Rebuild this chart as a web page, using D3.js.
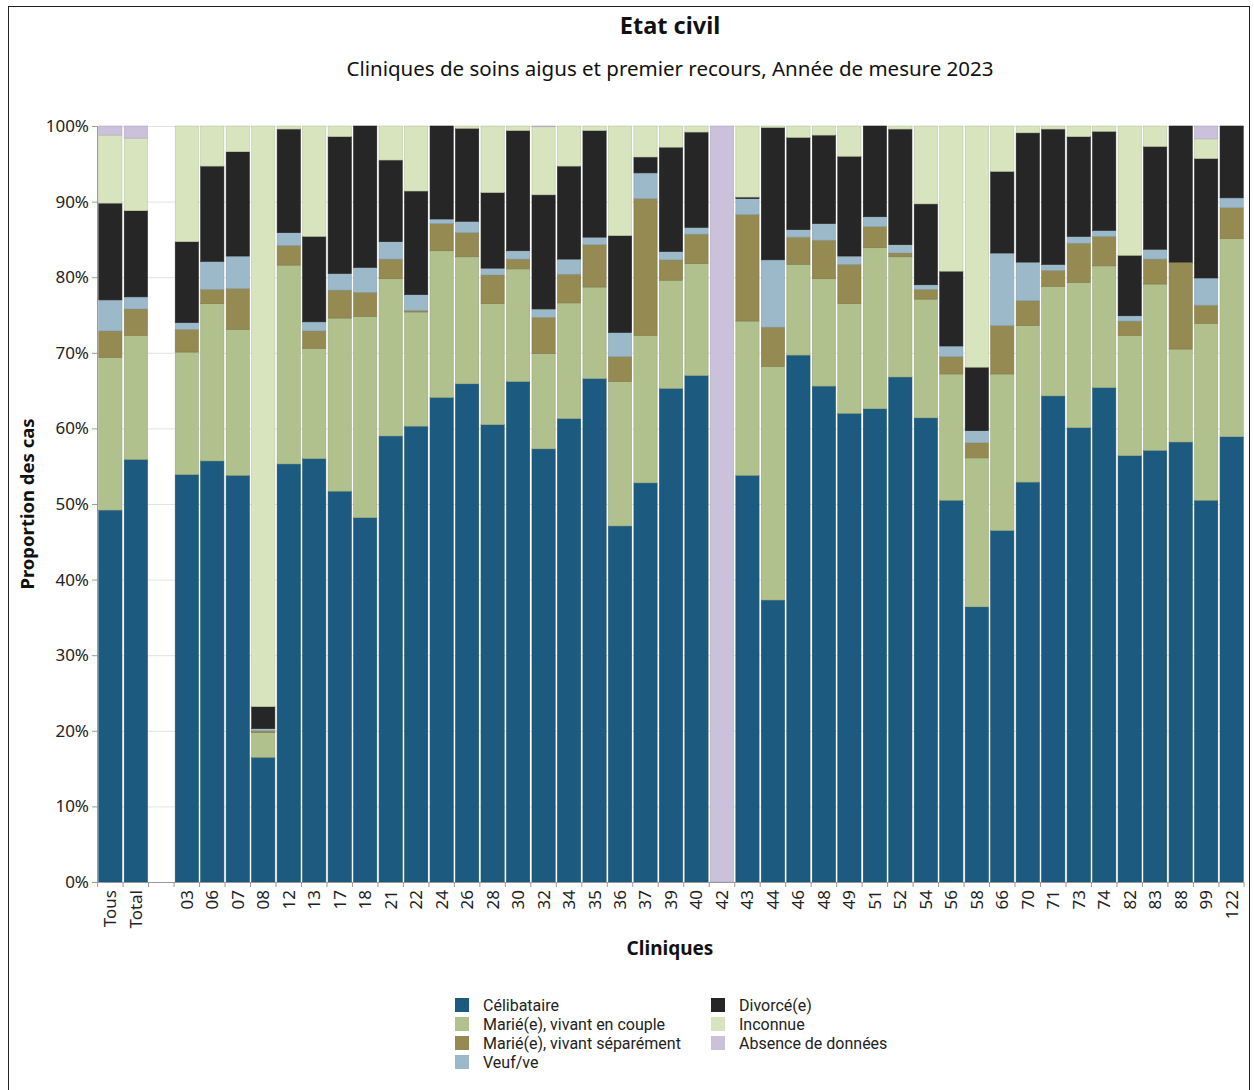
<!DOCTYPE html>
<html><head><meta charset="utf-8">
<script src="https://cdn.jsdelivr.net/npm/d3@7"></script>
<style>
body{margin:0;background:#fff;}
svg{font-family:"Noto Sans","Open Sans",sans-serif;}
</style></head>
<body>
<svg id="chart" width="1254" height="1090"></svg>
<script>
const categories = ["Tous","Total","","03","06","07","08","12","13","17","18","21","22","24","26","28","30","32","34","35","36","37","39","40","42","43","44","46","48","49","51","52","54","56","58","66","70","71","73","74","82","83","88","99","122"];
const seriesNames = ["Célibataire","Marié(e), vivant en couple","Marié(e), vivant séparément","Veuf/ve","Divorcé(e)","Inconnue","Absence de données"];
const celibataire = [49.2,55.9,0,53.9,55.7,53.8,16.5,55.3,56.0,51.7,48.2,59.0,60.3,64.1,65.9,60.5,66.2,57.3,61.3,66.6,47.1,52.8,65.3,67.0,0,53.8,37.3,69.7,65.6,62.0,62.6,66.8,61.4,50.5,36.4,46.5,52.9,64.3,60.1,65.4,56.4,57.1,58.2,50.5,58.9];
const marieCouple = [20.2,16.4,0,16.2,20.8,19.3,3.3,26.3,14.6,22.9,26.6,20.8,15.1,19.4,16.8,16.0,14.9,12.6,15.3,12.1,19.1,19.5,14.3,14.8,0,20.4,30.9,12.0,14.2,14.5,21.3,15.9,15.7,16.7,19.7,20.7,20.7,14.5,19.2,16.1,15.9,22.0,12.3,23.4,26.2];
const marieSepare = [3.5,3.5,0,3.0,1.9,5.4,0.2,2.6,2.3,3.7,3.2,2.6,0.2,3.6,3.2,3.8,1.3,4.8,3.8,5.6,3.3,18.1,2.7,3.9,0,14.1,5.2,3.6,5.1,5.2,2.8,0.5,1.3,2.3,2.0,6.4,3.3,2.1,5.2,3.9,1.9,3.3,11.5,2.4,4.1];
const veuf = [4.1,1.6,0,0.9,3.7,4.3,0.3,1.7,1.2,2.2,3.3,2.3,2.1,0.6,1.5,0.9,1.1,1.1,2.0,1.0,3.2,3.4,1.1,0.9,0,2.1,8.9,1.0,2.2,1.1,1.3,1.1,0.6,1.4,1.6,9.6,5.1,0.8,0.9,0.8,0.7,1.3,0,3.6,1.3];
const divorce = [12.8,11.4,0,10.7,12.6,13.8,2.9,13.7,11.3,18.1,18.7,10.8,13.7,12.3,12.3,10.0,15.9,15.1,12.3,14.1,12.8,2.1,13.8,12.6,0,0.2,17.5,12.2,11.7,13.2,12.0,15.3,10.7,9.9,8.4,10.8,17.1,17.9,13.2,13.1,8.0,13.6,18.0,15.8,9.5];
const inconnue = [9.0,9.6,0,15.3,5.3,3.4,76.8,0.4,14.6,1.4,0,4.5,8.6,0,0.3,8.8,0.6,9.0,5.3,0.6,14.5,4.1,2.8,0.8,0,9.4,0.2,1.5,1.2,4.0,0,0.4,10.3,19.2,31.9,6.0,0.9,0.4,1.4,0.7,17.1,2.7,0,2.6,0];
const absence = [1.2,1.6,0,0,0,0,0,0,0,0,0,0,0,0,0,0,0,0.1,0,0,0,0,0,0,100,0,0,0,0,0,0,0,0,0,0,0,0,0,0,0,0,0,0,1.7,0];
const yTicks = [0,10,20,30,40,50,60,70,80,90,100];
const colors = ["#1c5b7f","#b0c18e","#948a52","#9bb9c9","#262626","#d8e4bd","#cbc1db"];

(function(){
const seriesArrays = [celibataire,marieCouple,marieSepare,veuf,divorce,inconnue,absence];
const keys = seriesNames;
const rows = categories.map((c,i)=>{
  const r = {key: c===""? "__blank": c, label:c};
  keys.forEach((k,j)=> r[k] = seriesArrays[j][i]);
  return r;
});

const svg = d3.select("#chart");
svg.append("rect").attr("x",8.5).attr("y",6.5).attr("width",1241).attr("height",1100)
  .attr("fill","none").attr("stroke","#222").attr("stroke-width",1);

const pl=97, pr=1244, pt=126, pb=882;
const x = d3.scaleBand().domain(rows.map(d=>d.key)).range([pl+1,pr]).paddingInner(0.09).paddingOuter(0.03);
const y = d3.scaleLinear().domain([0,100]).range([pb,pt]);

svg.append("g").selectAll("line").data(yTicks).join("line")
  .attr("x1",pl).attr("x2",pr).attr("y1",d=>y(d)+0.5).attr("y2",d=>y(d)+0.5)
  .attr("stroke","#e3e3e3").attr("stroke-width",1);

const stack = d3.stack().keys(keys)(rows);
const g = svg.append("g");
stack.forEach((s,si)=>{
  g.append("g").selectAll("rect").data(s.filter(d=>d[1]-d[0]>0)).join("rect")
    .attr("x",d=>x(d.data.key))
    .attr("width",x.bandwidth())
    .attr("y",d=>y(d[1]))
    .attr("height",d=>y(d[0])-y(d[1]))
    .attr("fill",colors[si])
    .attr("stroke",d3.color(colors[si]).darker(0.4))
    .attr("stroke-width",0.6);
});

const yAxis = d3.axisLeft(y).tickValues(yTicks).tickFormat(d=>d+"%").tickSize(5).tickPadding(3);
const ya = svg.append("g").attr("transform",`translate(${pl},0)`).call(yAxis);
ya.select(".domain").attr("stroke","#999");
ya.selectAll(".tick line").attr("stroke","#999");
ya.selectAll("text").attr("font-size",17).attr("fill","#222").attr("font-family","'Noto Sans',sans-serif");

const xAxis = d3.axisBottom(x).tickFormat(k=> k==="__blank"?"":k).tickSize(0).tickPadding(0);
const xa = svg.append("g").attr("transform",`translate(0,${pb})`).call(xAxis);
xa.select(".domain").attr("stroke","#999").attr("d",`M${pl},0.5H${pr}`);
xa.selectAll(".tick line").remove();
xa.selectAll(".tick text")
  .attr("transform","rotate(-90)")
  .attr("x",-8).attr("y",0).attr("dy","0.35em")
  .attr("text-anchor","end")
  .attr("font-size",17).attr("fill","#222").attr("font-family","'Noto Sans',sans-serif");
const tickPos = rows.map(d=>x(d.key)-x.step()*x.paddingInner()/2);
tickPos.push(pr);
xa.append("g").selectAll("line").data(tickPos).join("line")
  .attr("x1",d=>d).attr("x2",d=>d).attr("y1",0).attr("y2",5).attr("stroke","#999");

svg.append("text").attr("x",670).attr("y",34).attr("text-anchor","middle")
  .attr("font-size",23.5).attr("font-weight","bold").attr("fill","#111").text("Etat civil");
svg.append("text").attr("x",670).attr("y",76).attr("text-anchor","middle")
  .attr("font-size",20.5).attr("fill","#111").text("Cliniques de soins aigus et premier recours, Année de mesure 2023");
svg.append("text").attr("transform","translate(34,504) rotate(-90)").attr("text-anchor","middle")
  .attr("font-size",18.5).attr("font-weight","bold").attr("fill","#111").text("Proportion des cas");
svg.append("text").attr("x",670).attr("y",955).attr("text-anchor","middle")
  .attr("font-size",19).attr("font-weight","bold").attr("fill","#111").text("Cliniques");

const legendPos = [[455,1005],[455,1024],[455,1043],[455,1062],[711,1005],[711,1024],[711,1043]];
const lg = svg.append("g");
keys.forEach((k,i)=>{
  const [lx,ly] = legendPos[i];
  lg.append("rect").attr("x",lx).attr("y",ly-7).attr("width",14).attr("height",14).attr("fill",colors[i]);
  lg.append("text").attr("x",lx+28).attr("y",ly).attr("dy","0.35em")
    .attr("font-family","Roboto, sans-serif")
    .attr("font-size",16).attr("fill","#222").text(k);
});
})();
</script>
</body></html>
